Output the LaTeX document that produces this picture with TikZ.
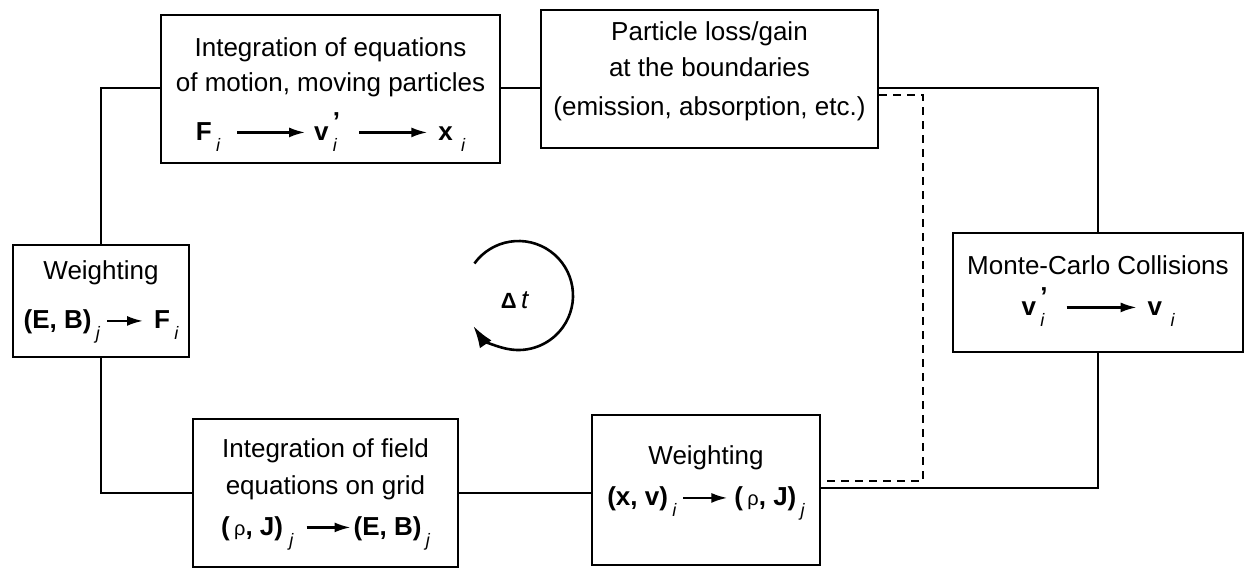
\documentclass[tikz,border=0pt]{standalone}
\usepackage{fontspec}
\setmainfont{Liberation Sans}
\usepackage{tikz}
\usetikzlibrary{arrows.meta}
\newcommand{\psub}[1]{\,\raisebox{-0.8ex}{\fontsize{9}{9}\selectfont\mdseries\itshape #1}}
\newcommand{\psubp}[1]{\,\rlap{\raisebox{-0.8ex}{\fontsize{9}{9}\selectfont\mdseries\itshape #1}}\raisebox{0.75ex}{\bfseries ’}}
\newcommand{\parr}[1]{\tikz[baseline=-4pt]\draw[line width=1.1pt,-{Latex[length=8pt,width=5pt]}] (0,0) -- (#1,0);}
\newcommand{\prho}{{\fontsize{10}{10}\selectfont\mdseries ρ}}
\tikzset{
  pbox/.style={draw, line width=1.2pt, align=center, inner sep=3pt, font=\fontsize{13}{17.5}\selectfont},
  pwire/.style={line width=1.1pt},
  pdash/.style={line width=1.1pt, dash pattern=on 4pt off 3pt},
  ploop/.style={line width=1.3pt, -{Latex[length=11pt,width=7pt]}}
}
\begin{document}
\begin{tikzpicture}[x=0.5pt,y=0.5pt]
\useasboundingbox (0,0) rectangle (1248,-569);
\node[pbox, minimum width=169.5pt, minimum height=74pt, text depth=0pt] (motion) at (330.5,-89) {Integration of equations\\of motion, moving particles\\[7pt]\textbf{F}\psub{i}\hspace{8pt}\parr{34pt}\hspace{4pt}\textbf{v}\psubp{i}\hspace{9pt}\parr{34pt}\hspace{5pt}\textbf{x}\hspace{2pt}\psub{i}};
\node[pbox, minimum width=168.5pt, minimum height=69pt, text depth=10pt] (loss) at (709.5,-79) {Particle loss/gain\\[0.5pt]at the boundaries\\[2pt](emission, absorption, etc.)};
\node[pbox, minimum width=88pt, minimum height=56pt, text depth=6pt] (weightF) at (101,-301) {Weighting\\[7pt]\textbf{(E, B)}\psub{j}\hspace{3pt}\parr{18pt}\hspace{5pt}\textbf{F}\psub{i}};
\node[pbox, minimum width=145pt, minimum height=59.5pt, text depth=7pt] (mcc) at (1098,-292.5) {Monte-Carlo Collisions\\[3pt]\textbf{v}\psubp{i}\hspace{9pt}\parr{35pt}\hspace{5pt}\textbf{v}\hspace{2pt}\psub{i}};
\node[pbox, minimum width=132.5pt, minimum height=74pt, text depth=6pt] (field) at (325.5,-493) {Integration of field\\[1pt]equations on grid\\[3pt]\textbf{(}\,\prho\textbf{, J)}\hspace{1pt}\psub{j}\hspace{6pt}\parr{22pt}\hspace{1pt}\textbf{(E, B)}\psub{j}};
\node[pbox, minimum width=114pt, minimum height=75pt, text depth=14pt] (weightJ) at (706,-490) {Weighting\\[3pt]\textbf{(x, v)}\psub{i}\hspace{3pt}\parr{22pt}\hspace{3pt}\textbf{(}\,\prho\textbf{, J)}\psub{j}};
\coordinate (loop) at (518.5,-295.5);
\node[font=\fontsize{13}{13}\selectfont] (dt) at (515,-300) {{\fontsize{11}{11}\selectfont\bfseries Δ}\,\textit{t}};
\draw[ploop] (loop) ++(144:27.25pt) arc[start angle=144, end angle=-146, radius=27.25pt];
\coordinate (ctl) at (101,-88);
\coordinate (cbl) at (101,-493);
\coordinate (cbr) at (1098,-488);
\coordinate (dtop) at (923,-95);
\coordinate (dbot) at (923,-481);
\draw[pwire] (weightF.north) |- (motion.west |- ctl);
\draw[pwire] (motion.east |- ctl) -- (loss.west |- ctl);
\draw[pwire] (loss.east |- ctl) -| (mcc.north);
\draw[pwire] (weightF.south) |- (field.west |- cbl);
\draw[pwire] (field.east |- cbl) -- (weightJ.west |- cbl);
\draw[pwire] (weightJ.east |- cbr) -| (mcc.south);
\draw[pdash] (loss.east |- dtop) -- (dtop) -- (dbot) -- (weightJ.east |- dbot);
\end{tikzpicture}
\end{document}
